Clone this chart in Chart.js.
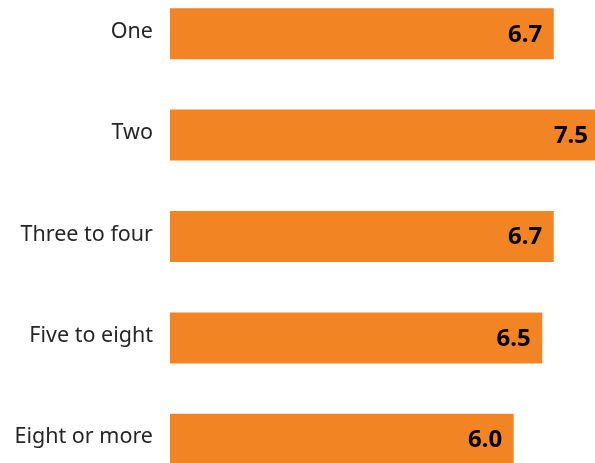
<!DOCTYPE html>
<html>
<head>
<meta charset="utf-8">
<script src="https://cdn.jsdelivr.net/npm/chart.js@4.4.1/dist/chart.umd.min.js"></script>
<style>
html,body{margin:0;padding:0;background:#fff;overflow:hidden;}
#wrap{position:absolute;left:0;top:-17px;width:595px;height:507px;}
</style>
</head>
<body>
<div id="wrap"><canvas id="c" width="595" height="507"></canvas></div>
<script>
const categories = ["One", "Two", "Three to four", "Five to eight", "Eight or more"];
const values = [6.7, 7.5, 6.7, 6.5, 6.0];
const xMax = 7.42;

const valueLabels = {
  id: 'valueLabels',
  afterDatasetsDraw(chart) {
    const ctx = chart.ctx;
    const meta = chart.getDatasetMeta(0);
    ctx.save();
    ctx.font = 'bold 24px "Noto Sans"';
    ctx.fillStyle = '#000';
    ctx.textAlign = 'right';
    ctx.textBaseline = 'middle';
    meta.data.forEach((bar, i) => {
      ctx.fillText(values[i].toFixed(1), bar.x - 11.5, bar.y + 1);
    });
    ctx.restore();
  }
};

new Chart(document.getElementById('c'), {
  type: 'bar',
  data: {
    labels: categories,
    datasets: [{
      data: values,
      backgroundColor: '#F38423',
      borderWidth: 0,
      barPercentage: 0.503,
      categoryPercentage: 1
    }]
  },
  options: {
    indexAxis: 'y',
    responsive: false,
    animation: false,
    devicePixelRatio: 1,
    layout: { padding: 0 },
    plugins: { legend: { display: false }, tooltip: { enabled: false } },
    scales: {
      x: { display: false, min: 0, max: xMax },
      y: {
        grid: { display: false, drawTicks: false },
        border: { display: false },
        ticks: { color: '#262626', padding: 17, labelOffset: -2, font: { family: '"Noto Sans"', size: 21.5 } },
        afterFit(scale) { scale.width = 170; scale.paddingTop = 0; scale.paddingBottom = 0; }
      }
    }
  },
  plugins: [valueLabels]
});
</script>
</body>
</html>
